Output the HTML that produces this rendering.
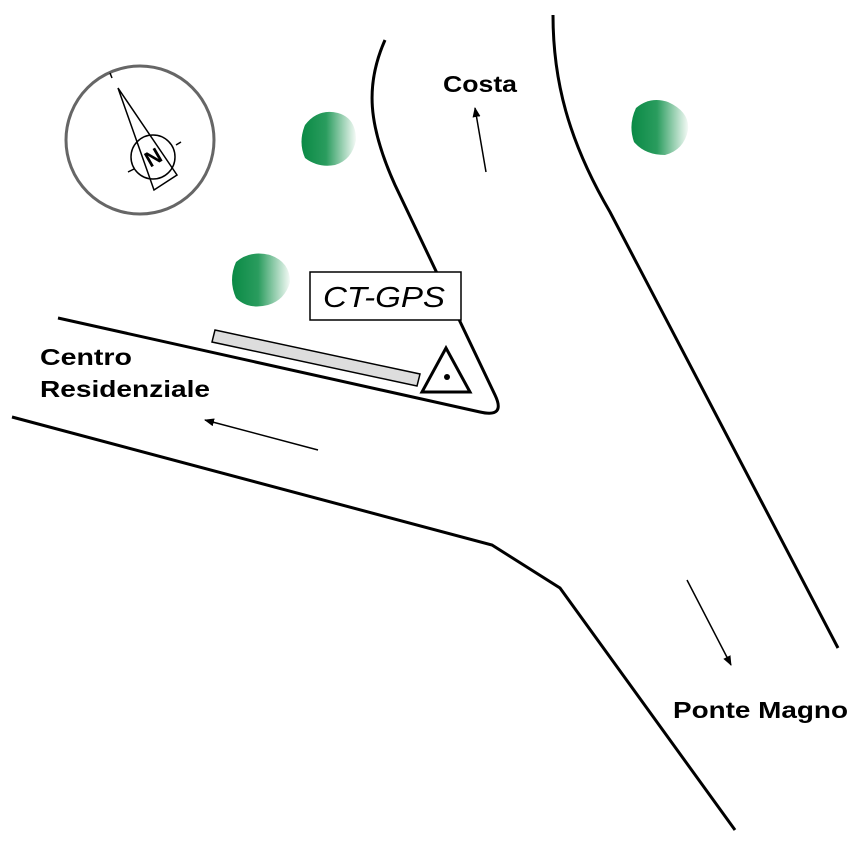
<!DOCTYPE html>
<html><head><style>body{margin:0;background:#fff}svg{display:block}</style></head><body>
<svg width="866" height="866" viewBox="0 0 866 866" xmlns="http://www.w3.org/2000/svg">
<defs>
<linearGradient id="g" x1="0" x2="1" y1="0" y2="0"><stop offset="0" stop-color="#0a8a45"/><stop offset="0.45" stop-color="#2a9c5e"/><stop offset="1" stop-color="#f4faf6"/></linearGradient>
<marker id="a" markerWidth="10" markerHeight="8" refX="9" refY="4" orient="auto" markerUnits="userSpaceOnUse"><path d="M0,0 L10,4 L0,8 z" fill="#000"/></marker>
</defs>
<g fill="none" stroke="#000" stroke-width="3">
<path d="M385,40 C365,85 368,125 395,185 L495,395 Q506,418 480,412 L58,318"/>
<path d="M12,417 L492,545 L560,588 L735,830"/>
<path d="M553,15 C553,80 568,140 610,212 L838,648"/>
</g>
<circle cx="140" cy="140" r="74" fill="none" stroke="#666" stroke-width="3"/>
<g stroke="#000" stroke-width="1.5" fill="none">
<path d="M118,88 L177,175 L154,190 Z"/>
<circle cx="153" cy="157" r="22"/>
<line x1="128" y1="172" x2="134" y2="169"/><line x1="176" y1="145" x2="181" y2="142"/>
<line x1="110" y1="73" x2="112" y2="78"/>
</g>
<text x="153" y="165" font-family="Liberation Sans,sans-serif" font-weight="bold" font-size="22" text-anchor="middle" transform="rotate(-30 153 157)">N</text>
<g fill="url(#g)">
<path d="M305,125 Q318,108 338,113 Q356,118 356,140 Q352,160 335,165 Q318,168 305,158 Q298,142 305,125Z"/>
<path d="M236,262 Q250,250 270,255 Q290,262 290,282 Q285,300 268,305 Q248,310 236,298 Q228,280 236,262Z"/>
<path d="M636,108 Q650,96 668,102 Q690,112 688,130 Q684,150 665,155 Q645,155 634,142 Q628,125 636,108Z"/>
</g>
<rect x="310" y="272" width="151" height="48" fill="#fff" stroke="#000" stroke-width="1.5"/>
<text x="323" y="307" font-family="Liberation Sans,sans-serif" font-style="italic" font-size="29" textLength="122" lengthAdjust="spacingAndGlyphs">CT-GPS</text>
<polygon points="215,330 420,374 417,386 212,342" fill="#ddd" stroke="#000" stroke-width="1.5"/>
<polygon points="446,348 422,392 470,392" fill="#fff" stroke="#000" stroke-width="3"/>
<circle cx="447" cy="377" r="3" fill="#000"/>
<g stroke="#000" stroke-width="1.5" marker-end="url(#a)">
<line x1="486" y1="172" x2="475" y2="108"/>
<line x1="318" y1="450" x2="205" y2="420"/>
<line x1="687" y1="580" x2="731" y2="665"/>
</g>
<g font-family="Liberation Sans,sans-serif" font-weight="bold" font-size="23">
<text x="443" y="92" textLength="74" lengthAdjust="spacingAndGlyphs">Costa</text>
<text x="40" y="365" textLength="92" lengthAdjust="spacingAndGlyphs">Centro</text>
<text x="40" y="397" textLength="170" lengthAdjust="spacingAndGlyphs">Residenziale</text>
<text x="673" y="718" textLength="175" lengthAdjust="spacingAndGlyphs">Ponte Magno</text>
</g>
</svg>
</body></html>
